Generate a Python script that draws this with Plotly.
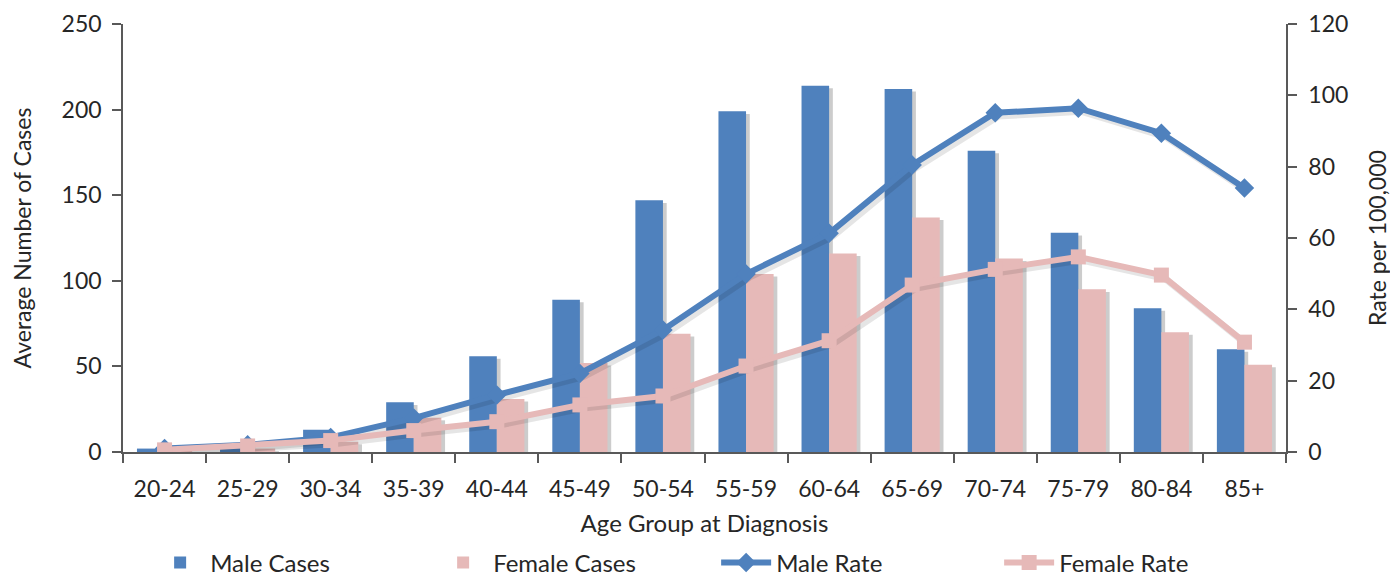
import plotly.graph_objects as go

age_groups = ["20-24", "25-29", "30-34", "35-39", "40-44", "45-49", "50-54",
              "55-59", "60-64", "65-69", "70-74", "75-79", "80-84", "85+"]
male_cases = [2, 5, 13, 29, 56, 89, 147, 199, 214, 212, 176, 128, 84, 60]
female_cases = [1, 2, 6, 20, 31, 52, 69, 104, 116, 137, 113, 95, 70, 51]
male_rate = [1.0, 2.0, 4.1, 9.5, 16.0, 22.0, 34.2, 49.9, 61.3, 80.5, 95.1, 96.4, 89.4, 74.0]
female_rate = [0.6, 1.7, 3.2, 6.0, 8.5, 13.2, 15.7, 24.1, 31.2, 46.8, 51.2, 54.7, 49.6, 30.8]

x = list(range(len(age_groups)))
BLUE = "#4F81BD"
PINK = "#E6B9B8"
SHADOW = "rgba(0,0,0,0.20)"
FONT = "Lato, Roboto, sans-serif"
BW = 0.332
SX = 0.045  # shadow shift (category units)

fig = go.Figure()

# shadows for bars
fig.add_trace(go.Bar(x=x, y=[v - 1.5 for v in male_cases], offset=-BW + SX, width=BW,
                     marker=dict(color=SHADOW, line=dict(width=0)), showlegend=False,
                     hoverinfo="skip"))
fig.add_trace(go.Bar(x=x, y=[v - 1.5 for v in female_cases], offset=SX, width=BW,
                     marker=dict(color=SHADOW, line=dict(width=0)), showlegend=False,
                     hoverinfo="skip"))

fig.add_trace(go.Bar(x=x, y=male_cases, name="Male Cases", offset=-BW, width=BW,
                     marker=dict(color=BLUE, line=dict(width=0))))
fig.add_trace(go.Bar(x=x, y=female_cases, name="Female Cases", offset=0, width=BW,
                     marker=dict(color=PINK, line=dict(width=0))))

# line shadows
for r in (male_rate, female_rate):
    fig.add_trace(go.Scatter(x=[v + 0.04 for v in x], y=[v - 0.9 for v in r], yaxis="y2",
                             mode="lines", line=dict(color="rgba(0,0,0,0.10)", width=7),
                             showlegend=False, hoverinfo="skip"))

fig.add_trace(go.Scatter(x=x, y=male_rate, name="Male Rate", yaxis="y2",
                         mode="lines+markers", line=dict(color=BLUE, width=6),
                         marker=dict(symbol="diamond", size=15, color=BLUE)))
fig.add_trace(go.Scatter(x=x, y=female_rate, name="Female Rate", yaxis="y2",
                         mode="lines+markers", line=dict(color=PINK, width=6),
                         marker=dict(symbol="square", size=15, color=PINK)))

axis_col = "#595959"
TF = 23
TT = 23
fig.update_layout(
    width=1390, height=571,
    margin=dict(l=115, r=112, t=16, b=127),
    paper_bgcolor="white", plot_bgcolor="white",
    barmode="overlay",
    font=dict(family=FONT, size=TF, color="#262626"),
    xaxis=dict(
        range=[-0.5, 13.5], tickmode="array", tickvals=x, ticktext=age_groups,
        showgrid=False, zeroline=False, showline=True, linecolor=axis_col, linewidth=1.5,
        ticks="", tickfont=dict(size=TT), automargin=False, ticklabelstandoff=16,
        title=dict(text="Age Group at Diagnosis", font=dict(size=24), standoff=14),
        minor=dict(tickmode="array", tickvals=[i - 0.5 for i in range(15)],
                   ticks="outside", ticklen=9, tickcolor=axis_col, tickwidth=1.5),
    ),
    yaxis=dict(
        range=[0, 250], dtick=50, showgrid=False, zeroline=False,
        showline=True, linecolor=axis_col, linewidth=1.5,
        ticks="outside", ticklen=9, tickcolor=axis_col, tickwidth=1.5,
        tickfont=dict(size=TF), automargin=False, ticklabelstandoff=6,
        title=dict(text="Average Number of Cases", font=dict(size=TT), standoff=27),
    ),
    yaxis2=dict(
        range=[0, 120], dtick=20, overlaying="y", side="right",
        showgrid=False, zeroline=False,
        showline=True, linecolor=axis_col, linewidth=1.5,
        ticks="outside", ticklen=9, tickcolor=axis_col, tickwidth=1.5,
        tickfont=dict(size=TF), automargin=False, ticklabelstandoff=7,
        title=dict(text="Rate per 100,000", font=dict(size=TT), standoff=23),
    ),
    legend=dict(orientation="h", x=0.51, xanchor="center", xref="paper",
                yref="container", y=0.028, yanchor="middle",
                entrywidth=218, font=dict(size=24), itemwidth=50),
)

fig.write_html("out.html")
